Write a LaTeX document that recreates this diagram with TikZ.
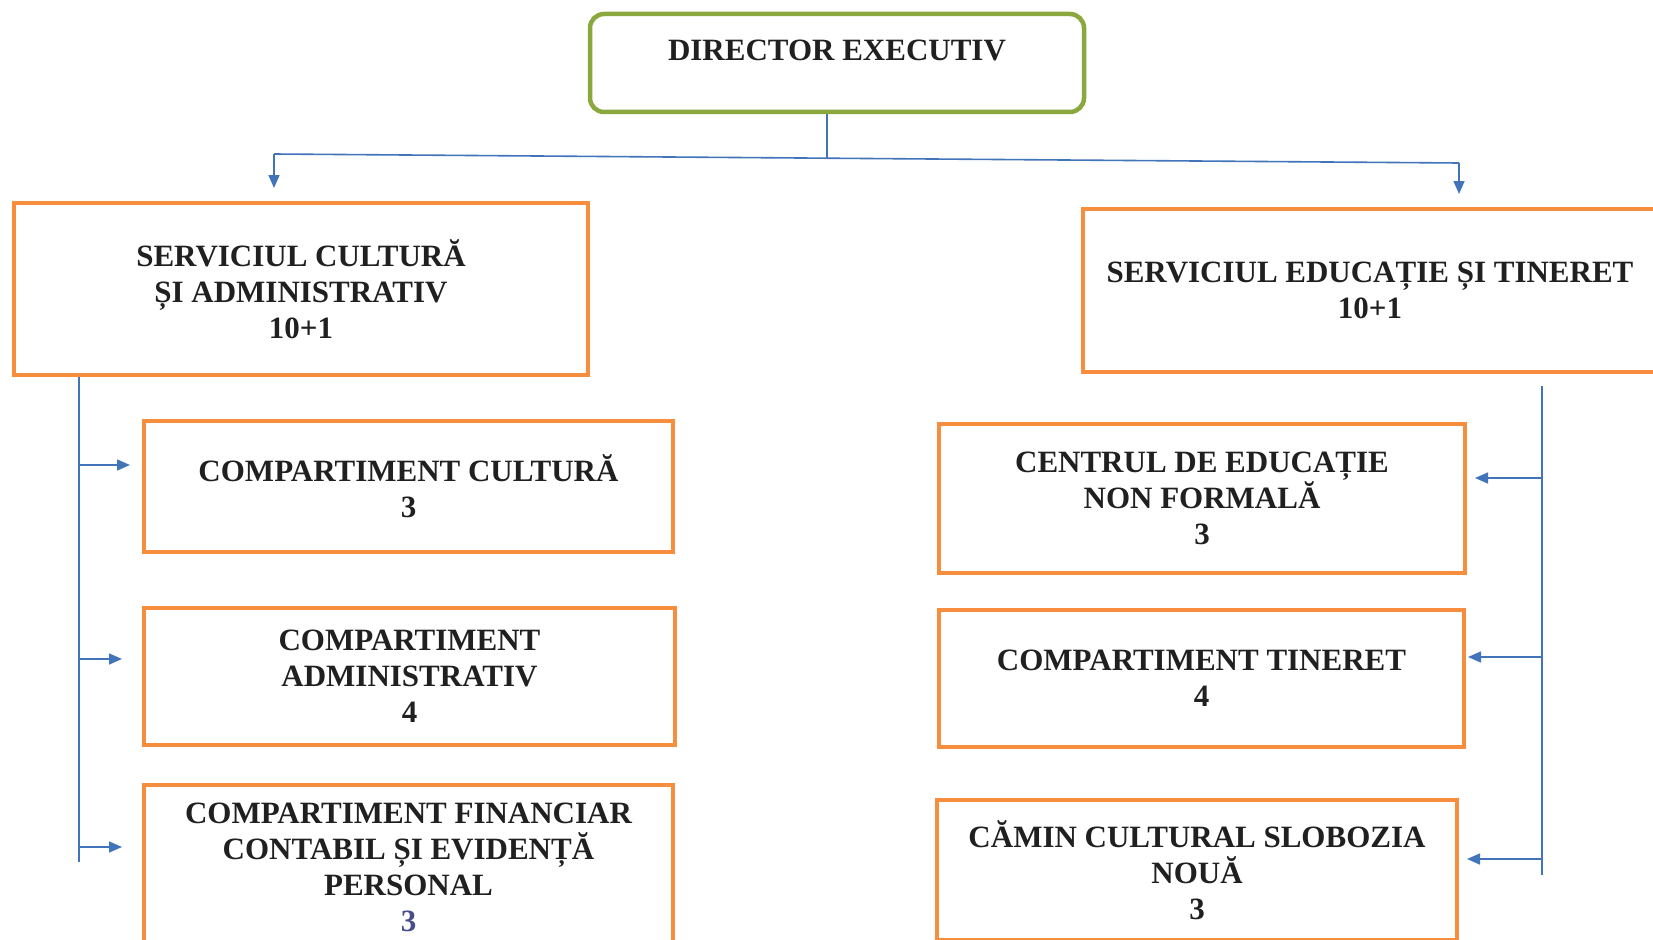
\documentclass[tikz,border=0pt]{standalone}
\usepackage{fontspec}
\setmainfont{Liberation Serif}
\usetikzlibrary{arrows.meta}
\definecolor{orangeb}{RGB}{246,142,62}
\definecolor{greenb}{RGB}{138,168,62}
\definecolor{blueln}{RGB}{66,116,186}
\definecolor{txt}{RGB}{32,32,32}
\definecolor{hand}{RGB}{72,78,140}
\begin{document}
\begin{tikzpicture}[x=1pt,y=-1pt,
  box/.style={draw=orangeb, line width=4pt, rectangle, inner sep=0pt, align=center,
    font=\fontsize{31}{36}\selectfont\bfseries, text=txt},
  dirbox/.style={draw=greenb, line width=4.5pt, rounded corners=14pt, rectangle, inner sep=0pt},
  lbl/.style={inner sep=0pt, font=\fontsize{31}{36}\selectfont\bfseries, text=txt},
  ln/.style={draw=blueln, line width=1.6pt},
  arr/.style={ln, -{Triangle[length=13pt,width=11pt]}},
]
\useasboundingbox (0,0) rectangle (1653,939);
\clip (0,0) rectangle (1653,939);
\fill[white] (0,0) rectangle (1653,939);

% director
\node[dirbox, minimum width=494pt, minimum height=98pt] (dir) at (837,63) {};
\node[lbl] (dirtext) at (837,50) {DIRECTOR EXECUTIV};

% services
\node[box, minimum width=574pt, minimum height=172pt] (sca) at (301,289)
  {SERVICIUL CULTURĂ\\ȘI ADMINISTRATIV\\10+1};
\node[box, minimum width=574pt, minimum height=163pt] (set) at (1370,290.5)
  {SERVICIUL EDUCAȚIE ȘI TINERET\\10+1};

% left compartments
\node[box, minimum width=529pt, minimum height=131pt] (cc) at (408.5,486.5)
  {COMPARTIMENT CULTURĂ\\3};
\node[box, minimum width=531pt, minimum height=137pt] (ca) at (409.5,676.5)
  {COMPARTIMENT\\ADMINISTRATIV\\4};
\node[box, minimum width=529pt, minimum height=164pt] (cf) at (408.5,867)
  {COMPARTIMENT FINANCIAR\\CONTABIL ȘI EVIDENȚĂ\\PERSONAL\\{\color{hand}3}};

% right compartments
\node[box, minimum width=526pt, minimum height=149pt] (ce) at (1202,498.5)
  {CENTRUL DE EDUCAȚIE\\NON FORMALĂ\\3};
\node[box, minimum width=525pt, minimum height=137pt] (ct) at (1201.5,678.5)
  {COMPARTIMENT TINERET\\4};
\node[box, minimum width=520pt, minimum height=140pt] (cm) at (1197,870)
  {CĂMIN CULTURAL SLOBOZIA\\NOUĂ\\3};

% top connectors
\coordinate (j) at (827,158);
\coordinate (hl) at (274,154);
\coordinate (hr) at (1459,163);
\draw[ln] (dir.south -| j) -- (j);
\draw[ln] (hl) -- (hr);
\draw[arr, shorten >=13pt] (hl) -- (hl |- sca.north);
\draw[arr, shorten >=13pt] (hr) -- (hr |- set.north);

% left branch
\coordinate (lv) at (79,377);
\coordinate (lb) at (79,862);
\draw[ln] (lv) -- (lb);
\coordinate (la1) at (79,465);
\coordinate (la2) at (79,659);
\coordinate (la3) at (79,847);
\draw[arr, shorten >=12pt] (la1) -- (la1 -| cc.west);
\draw[arr, shorten >=20pt] (la2) -- (la2 -| ca.west);
\draw[arr, shorten >=20pt] (la3) -- (la3 -| cf.west);

% right branch
\coordinate (rv) at (1542,386);
\coordinate (rb) at (1542,875);
\draw[ln] (rv) -- (rb);
\coordinate (ra1) at (1542,478);
\coordinate (ra2) at (1542,657);
\coordinate (ra3) at (1542,859);
\draw[arr, shorten >=8pt] (ra1) -- (ra1 -| ce.east);
\draw[arr, shorten >=2pt] (ra2) -- (ra2 -| ct.east);
\draw[arr, shorten >=8pt] (ra3) -- (ra3 -| cm.east);
\end{tikzpicture}
\end{document}
